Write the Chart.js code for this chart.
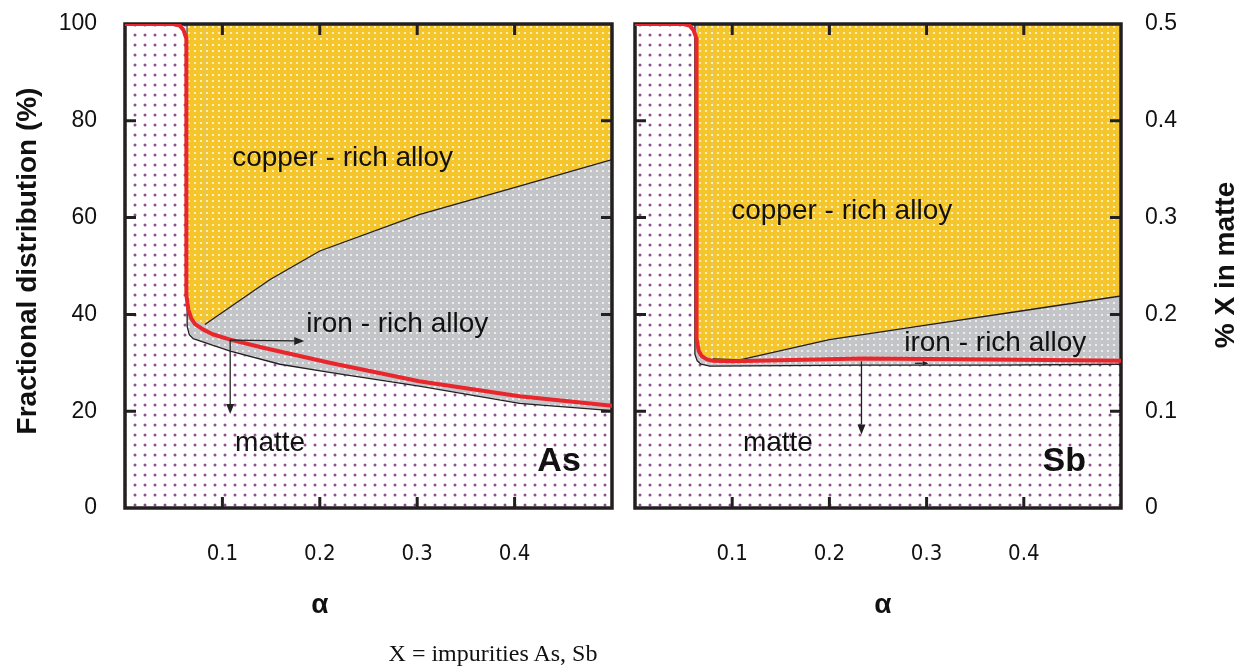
<!DOCTYPE html>
<html>
<head>
<meta charset="utf-8">
<script src="https://cdn.jsdelivr.net/npm/chart.js@4.4.1/dist/chart.umd.min.js"></script>
<style>
  html, body { margin: 0; padding: 0; background: #fff; }
  #wrap { position: relative; width: 1250px; height: 672px; overflow: hidden; }
  #cAs { position: absolute; left: 0; top: 0; }
  #cSb { position: absolute; left: 625px; top: 0; }
  #caption {
    position: absolute; left: 0; width: 986px; top: 640px; text-align: center;
    font-family: "Liberation Serif", "Times New Roman", serif; font-size: 24px; color: #111;
  }
</style>
</head>
<body>
<div id="wrap">
  <canvas id="cAs" width="625" height="672"></canvas>
  <canvas id="cSb" width="625" height="672"></canvas>
  <div id="caption">X = impurities As, Sb</div>
</div>
<script>
// ---- As panel ----
const asRedX    = [0, 0.05, 0.056, 0.060, 0.063, 0.063, 0.065, 0.068, 0.072, 0.080, 0.090, 0.108, 0.142, 0.21, 0.302, 0.405, 0.5];
const asRedY    = [100, 100, 99.7, 98.8, 97, 44, 41, 39.2, 38, 36.9, 35.9, 34.8, 33.1, 30.0, 26.2, 23.1, 21.1];
const asMatteX  = [0, 0.0638, 0.0638, 0.066, 0.070, 0.108, 0.159, 0.21, 0.302, 0.405, 0.5];
const asMatteY  = [100, 100, 37.5, 35.8, 35.0, 32.4, 29.7, 28.0, 25.2, 21.6, 20.1];
const asCopperX = [0.064, 0.064, 0.070, 0.082, 0.149, 0.2, 0.302, 0.405, 0.5];
const asCopperY = [100, 42, 39, 37.9, 47.2, 53.1, 60.6, 66.5, 72.0];

// ---- Sb panel ----
const sbRedX    = [0, 0.05, 0.056, 0.060, 0.0633, 0.0633, 0.0655, 0.0685, 0.074, 0.080, 0.10, 0.234, 0.371, 0.5];
const sbRedY    = [100, 100, 99.7, 98.8, 97, 35, 32.5, 31.4, 30.7, 30.4, 30.3, 30.9, 30.7, 30.4];
const sbMatteX  = [0, 0.0616, 0.0616, 0.064, 0.068, 0.077, 0.234, 0.371, 0.5];
const sbMatteY  = [100, 100, 31.8, 30.4, 29.7, 29.3, 29.5, 29.5, 29.7];
const sbCopperX = [0.064, 0.064, 0.070, 0.080, 0.108, 0.2, 0.303, 0.397, 0.5];
const sbCopperY = [100, 34, 31.5, 30.8, 30.6, 34.8, 37.9, 40.7, 43.8];

// axis ticks
const alphaTicks = [0.1, 0.2, 0.3, 0.4];
const fracTicks  = [0, 20, 40, 60, 80, 100];
const matteTicks = [0, 0.1, 0.2, 0.3, 0.4, 0.5];

const INK = '#231f20';
const FONT = '"Liberation Sans", Arial, sans-serif';
const NARROW = '"Liberation Sans Narrow", "Arial Narrow", "DejaVu Sans Condensed", ' + FONT;

function pts(xs, ys) {
  return xs.map((x, i) => ({ x: x, y: ys[i] }));
}

// dotted fills
function dots(bg, dot, step, r) {
  const c = document.createElement('canvas');
  c.width = step; c.height = step;
  const g = c.getContext('2d');
  if (bg) { g.fillStyle = bg; g.fillRect(0, 0, step, step); }
  g.fillStyle = dot;
  g.beginPath(); g.arc(step / 2, step / 2, r, 0, Math.PI * 2); g.fill();
  return g.createPattern(c, 'repeat');
}
const mattePat  = dots('#ffffff', '#8e4f91', 10, 1.5);
const copperPat = dots('#f5c62c', 'rgba(255,255,255,0.85)', 6, 1.1);
const ironPat   = dots('#c4c5c8', 'rgba(255,255,255,0.85)', 6, 1.1);

// tick label padding must not push the plot box down
function noPad(s) {
  s.paddingTop = 0; s.paddingBottom = 0; s.paddingLeft = 0; s.paddingRight = 0;
}

// frame, inward ticks, labels and arrows
const decor = {
  id: 'decor',
  beforeDatasetDraw(chart, args) {
    if (args.index !== 0) return; // red curve is drawn last, on top of the frame
    const { ctx, chartArea: a, scales: { x, y } } = chart;
    ctx.save();
    ctx.strokeStyle = INK;
    ctx.lineWidth = 3;
    ctx.beginPath();
    alphaTicks.forEach(v => {
      const px = x.getPixelForValue(v);
      ctx.moveTo(px, a.top); ctx.lineTo(px, a.top + 11);
      ctx.moveTo(px, a.bottom); ctx.lineTo(px, a.bottom - 11);
    });
    fracTicks.filter(v => v > 0 && v < 100).forEach(v => {
      const py = y.getPixelForValue(v);
      ctx.moveTo(a.left, py); ctx.lineTo(a.left + 11, py);
      ctx.moveTo(a.right, py); ctx.lineTo(a.right - 11, py);
    });
    ctx.stroke();
    ctx.lineWidth = 3.5;
    ctx.strokeRect(a.left, a.top, a.right - a.left, a.bottom - a.top);
    ctx.restore();
  },
  afterDatasetsDraw(chart, args, opts) {
    const { ctx, scales: { x, y } } = chart;
    ctx.save();
    ctx.fillStyle = '#111';
    ctx.textBaseline = 'middle';
    (opts.labels || []).forEach(l => {
      ctx.font = l.font;
      ctx.textAlign = l.align || 'left';
      ctx.fillText(l.text, x.getPixelForValue(l.x), y.getPixelForValue(l.y));
    });
    ctx.strokeStyle = INK;
    ctx.fillStyle = INK;
    ctx.lineWidth = 1.3;
    (opts.arrows || []).forEach(ar => {
      const x0 = x.getPixelForValue(ar[0]), y0 = y.getPixelForValue(ar[1]);
      const x1 = x.getPixelForValue(ar[2]), y1 = y.getPixelForValue(ar[3]);
      const hl = ar[4] || 10, hw = hl * 0.4;
      const ang = Math.atan2(y1 - y0, x1 - x0);
      ctx.beginPath(); ctx.moveTo(x0, y0);
      ctx.lineTo(x1 - hl * Math.cos(ang), y1 - hl * Math.sin(ang)); ctx.stroke();
      ctx.beginPath();
      ctx.moveTo(x1, y1);
      ctx.lineTo(x1 - hl * Math.cos(ang) + hw * Math.sin(ang), y1 - hl * Math.sin(ang) - hw * Math.cos(ang));
      ctx.lineTo(x1 - hl * Math.cos(ang) - hw * Math.sin(ang), y1 - hl * Math.sin(ang) + hw * Math.cos(ang));
      ctx.closePath(); ctx.fill();
    });
    ctx.restore();
  },
  afterDraw(chart, args, opts) {
    const { ctx, scales: { x } } = chart;
    ctx.save();
    ctx.fillStyle = '#111';
    ctx.textAlign = 'center';
    ctx.textBaseline = 'middle';
    ctx.font = 'bold 28px ' + FONT;
    ctx.fillText('\u03b1', x.getPixelForValue(opts.alphaAt), 605);
    if (opts.yTitle) {
      ctx.font = 'bold 28px ' + FONT;
      ctx.translate(opts.yTitle.x, opts.yTitle.y);
      ctx.rotate(-Math.PI / 2);
      ctx.fillText(opts.yTitle.text, 0, 0);
    }
    ctx.restore();
  }
};

function panel(canvasId, red, matte, copper, extra) {
  const datasets = [
    { label: 'red', data: red, borderColor: '#e8262b', borderWidth: 4, fill: false,
      pointRadius: 0, tension: 0, borderJoinStyle: 'round', borderCapStyle: 'round' },
    { label: 'copper-rich alloy', data: copper, borderColor: INK, borderWidth: 1.3,
      fill: 'end', backgroundColor: copperPat, pointRadius: 0, tension: 0,
      segment: { borderColor: c => c.p0DataIndex < 3 ? 'rgba(0,0,0,0)' : INK } },
    { label: 'iron-rich alloy', data: matte, borderColor: INK, borderWidth: 1.3,
      fill: 'end', backgroundColor: ironPat, pointRadius: 0, tension: 0 },
    { label: 'matte', data: matte, borderWidth: 0, borderColor: 'rgba(0,0,0,0)',
      fill: 'origin', backgroundColor: mattePat, pointRadius: 0, tension: 0 }
  ];
  const leftSide = extra.side === 'left';
  const scales = {
    x: {
      type: 'linear', min: 0, max: 0.5,
      afterBuildTicks: s => { s.ticks = alphaTicks.map(v => ({ value: v })); },
      afterFit: s => { s.height = 164; noPad(s); },
      grid: { display: false, drawTicks: false }, border: { display: false },
      ticks: { padding: 33, color: '#111', font: { family: NARROW, size: 22 },
        callback: v => v.toFixed(1) }
    },
    y: {
      type: 'linear', min: 0, max: 100, display: leftSide,
      afterBuildTicks: s => { s.ticks = fracTicks.map(v => ({ value: v })); },
      afterFit: s => { if (leftSide) s.width = 125; noPad(s); },
      grid: { display: false, drawTicks: false }, border: { display: false },
      ticks: { padding: 28, color: '#111', font: { family: FONT, size: 23 } }
    }
  };
  if (!leftSide) {
    scales.y2 = {
      type: 'linear', position: 'right', min: 0, max: 0.5,
      afterBuildTicks: s => { s.ticks = matteTicks.map(v => ({ value: v })); },
      afterFit: s => { s.width = 129; noPad(s); },
      grid: { display: false, drawTicks: false }, border: { display: false },
      ticks: { padding: 24, color: '#111', font: { family: FONT, size: 23 },
        callback: v => v === 0 ? '0' : v.toFixed(1) }
    };
  }
  return new Chart(document.getElementById(canvasId), {
    type: 'line',
    data: { datasets: datasets },
    options: {
      responsive: false, animation: false,
      layout: { padding: extra.padding },
      plugins: {
        legend: { display: false }, tooltip: { enabled: false },
        decor: { labels: extra.labels, arrows: extra.arrows, alphaAt: extra.alphaAt, yTitle: extra.yTitle }
      },
      scales: scales
    },
    plugins: [decor]
  });
}

const labelFont = '28px ' + FONT;
const tagFont = 'bold 34px ' + FONT;

panel('cAs', pts(asRedX, asRedY), pts(asMatteX, asMatteY), pts(asCopperX, asCopperY), {
  side: 'left',
  padding: { left: 0, top: 24, right: 13, bottom: 0 },
  alphaAt: 0.2,
  yTitle: { text: 'Fractional distribution (%)', x: 28, y: 261 },
  labels: [
    { text: 'copper - rich alloy', x: 0.11, y: 72.3, font: labelFont },
    { text: 'iron - rich alloy', x: 0.186, y: 38.0, font: labelFont },
    { text: 'matte', x: 0.113, y: 13.4, font: labelFont },
    { text: 'As', x: 0.468, y: 9.5, font: tagFont, align: 'right' }
  ],
  arrows: [
    [0.108, 34.7, 0.108, 19.4, 10],
    [0.108, 34.7, 0.184, 34.5, 10]
  ]
});

panel('cSb', pts(sbRedX, sbRedY), pts(sbMatteX, sbMatteY), pts(sbCopperX, sbCopperY), {
  side: 'right',
  padding: { left: 10, top: 24, right: 0, bottom: 0 },
  alphaAt: 0.255,
  yTitle: { text: '% X in matte', x: 601, y: 265 },
  labels: [
    { text: 'copper - rich alloy', x: 0.099, y: 61.4, font: labelFont },
    { text: 'iron - rich alloy', x: 0.277, y: 34.1, font: labelFont },
    { text: 'matte', x: 0.111, y: 13.4, font: labelFont },
    { text: 'Sb', x: 0.464, y: 9.5, font: tagFont, align: 'right' }
  ],
  arrows: [
    [0.233, 30.3, 0.233, 15.2, 10],
    [0.288, 29.9, 0.302, 29.9, 6]
  ]
});
</script>
</body>
</html>
